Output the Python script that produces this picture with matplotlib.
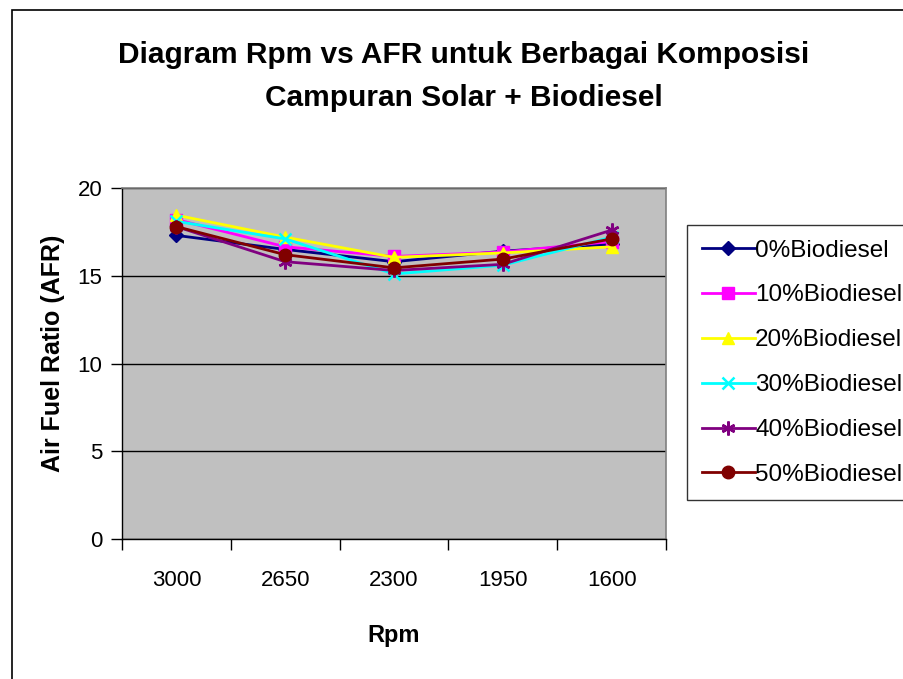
import matplotlib
matplotlib.use("Agg")
import matplotlib.pyplot as plt
from matplotlib.patches import Rectangle
from matplotlib.ticker import FixedLocator, NullFormatter, FixedFormatter

plt.rcParams['font.family'] = ['Liberation Sans', 'DejaVu Sans']

rpm_labels = ["3000", "2650", "2300", "1950", "1600"]
series_names = ["0%Biodiesel", "10%Biodiesel", "20%Biodiesel",
                "30%Biodiesel", "40%Biodiesel", "50%Biodiesel"]
afr_0 = [17.3, 16.5, 15.8, 16.4, 16.8]
afr_10 = [18.2, 16.65, 16.1, 16.35, 16.95]
afr_20 = [18.45, 17.2, 16.05, 16.3, 16.65]
afr_30 = [18.1, 17.1, 15.1, 15.6, 17.2]
afr_40 = [17.8, 15.8, 15.3, 15.65, 17.6]
afr_50 = [17.8, 16.2, 15.45, 15.95, 17.1]
all_series = [afr_0, afr_10, afr_20, afr_30, afr_40, afr_50]

colors = ["#000080", "#FF00FF", "#FFFF00", "#00FFFF", "#800080", "#800000"]
markers = ["D", "s", "^", "x", (6, 2, 0), "o"]
msizes = [7, 8, 9, 9, 10, 9]

fig = plt.figure(figsize=(9.04, 6.79), dpi=100)
fig.patches.append(Rectangle((12/904, -0.1), 1.2, 1 - 10/679 + 0.1,
                             transform=fig.transFigure, fill=False,
                             edgecolor="black", linewidth=1.2))

ax = fig.add_axes([122/904, 1 - 539/679, (666-122)/904, (539-188)/679])
ax.set_facecolor("#C0C0C0")

x = list(range(len(rpm_labels)))
for vals, name, c, m, ms in zip(all_series, series_names, colors, markers, msizes):
    ax.plot(x, vals, color=c, marker=m, markersize=ms, linewidth=2,
            label=name, markeredgewidth=1.8 if m in ("x", (6, 2, 0)) else 1,
            markeredgecolor=c, markerfacecolor=c)

ax.set_xlim(-0.5, len(rpm_labels) - 0.5)
ax.set_ylim(0, 20)
ax.set_yticks([0, 5, 10, 15, 20])
ax.yaxis.grid(True, color="black", linewidth=1)
ax.set_axisbelow(True)

ax.xaxis.set_major_locator(FixedLocator([i - 0.5 for i in range(len(rpm_labels) + 1)]))
ax.xaxis.set_major_formatter(NullFormatter())
ax.xaxis.set_minor_locator(FixedLocator(x))
ax.xaxis.set_minor_formatter(FixedFormatter(rpm_labels))
ax.tick_params(axis="x", which="major", direction="out", length=8, width=1, color="black")
ax.tick_params(axis="x", which="minor", length=0, pad=22, labelsize=16)
ax.tick_params(axis="y", direction="out", length=8, width=1, labelsize=16, pad=6)

for s in ["top", "right"]:
    ax.spines[s].set_color("#808080")
    ax.spines[s].set_linewidth(1.2)
for s in ["left", "bottom"]:
    ax.spines[s].set_color("black")
    ax.spines[s].set_linewidth(1)

ax.set_xlabel("Rpm", fontsize=17, fontweight="bold", labelpad=24)
ax.set_ylabel("Air Fuel Ratio (AFR)", fontsize=18, fontweight="bold")
ax.yaxis.set_label_coords(-0.105, 0.528)

fig.text(0.513, 1 - 55/679, "Diagram Rpm vs AFR untuk Berbagai Komposisi",
         ha="center", va="center", fontsize=21.5, fontweight="bold")
fig.text(0.513, 1 - 98/679, "Campuran Solar + Biodiesel",
         ha="center", va="center", fontsize=21.5, fontweight="bold")

leg = fig.legend(loc="upper left", bbox_to_anchor=(687/904, 1 - 225/679),
                 frameon=True, fancybox=False, fontsize=17.5,
                 labelspacing=0.94, handlelength=2.2, handletextpad=0.0,
                 borderpad=0.6, borderaxespad=0)
leg.get_frame().set_edgecolor("black")
leg.get_frame().set_linewidth(1)

fig.savefig("out.png", dpi=100)
